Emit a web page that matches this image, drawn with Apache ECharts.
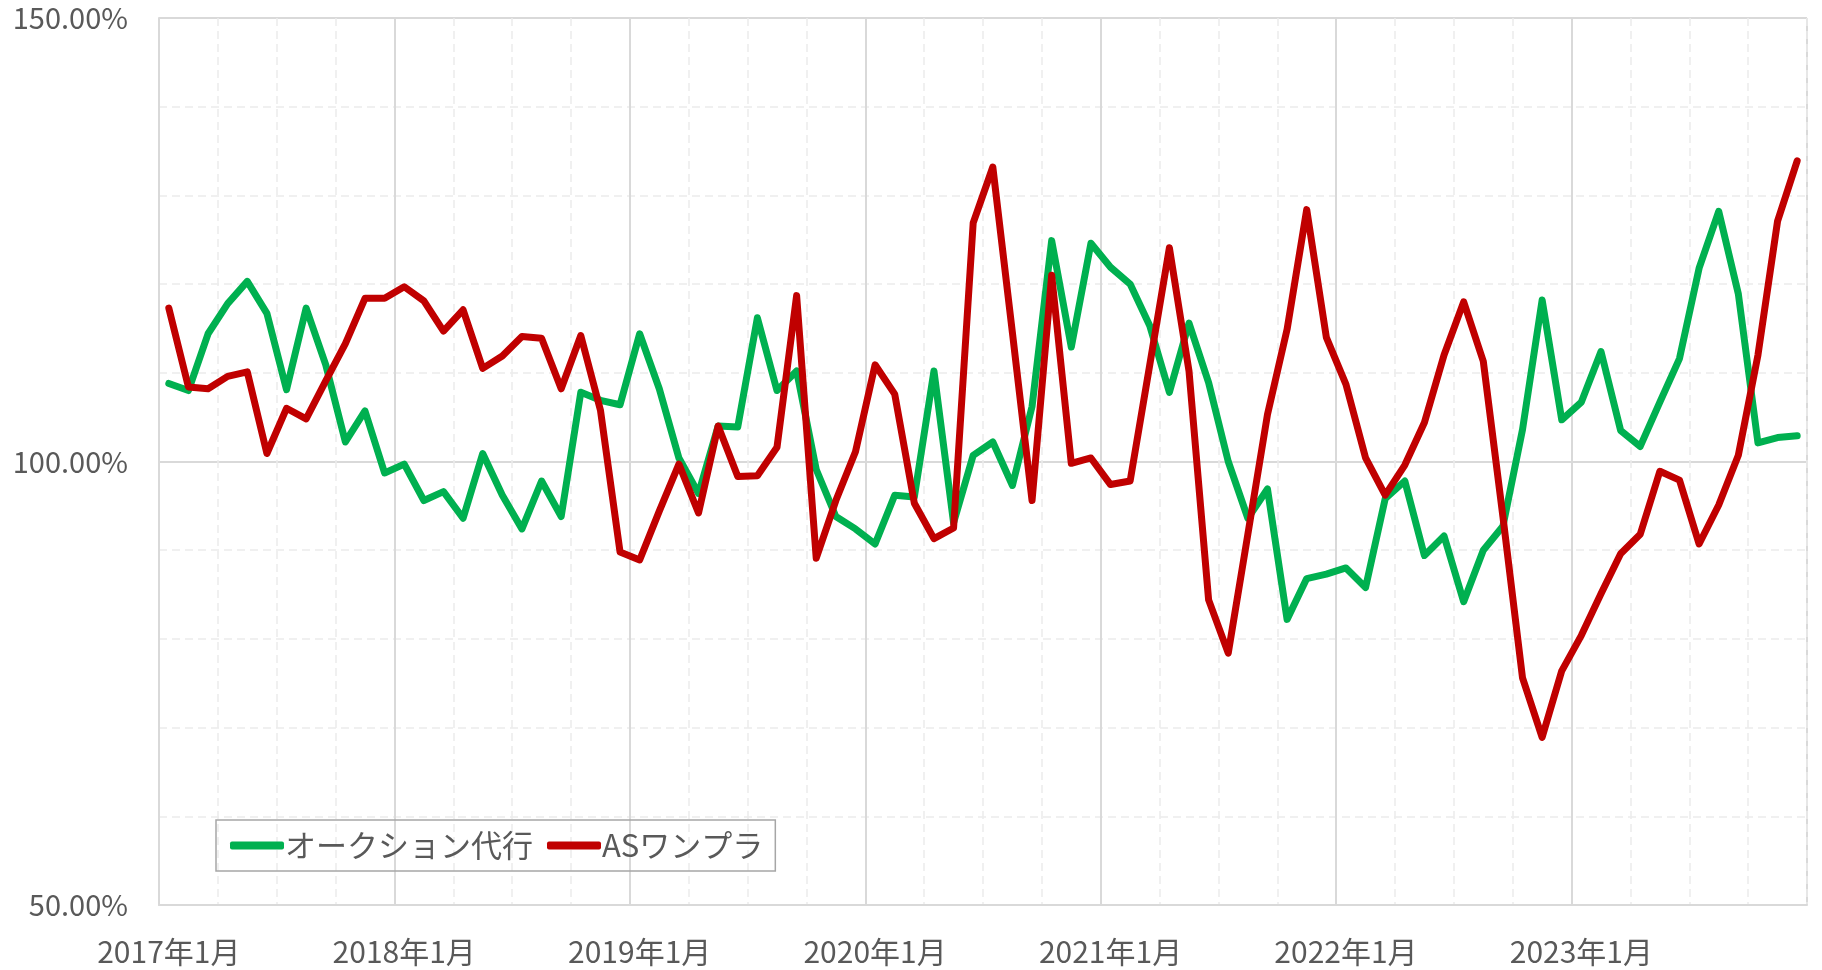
<!DOCTYPE html>
<html>
<head>
<meta charset="utf-8">
<script src="https://cdn.jsdelivr.net/npm/echarts@6/dist/echarts.min.js"></script>
<style>
  html, body { margin: 0; padding: 0; background: #fff; }
  #main { width: 1822px; height: 970px; }
</style>
</head>
<body>
<div id="main"></div>
<script>
// months Jan 2017 .. Dec 2023
const years = [2017, 2018, 2019, 2020, 2021, 2022, 2023]
const months = []
for (let y of years) {
    for (let m = 1; m <= 12; m++) months.push(y + '年' + m + '月')
}

const seriesNames = ['オークション代行', 'ASワンプラ']

// %
const auctionAgency = [
    108.8, 108.0, 114.4, 117.8, 120.3, 116.7, 108.1, 117.3, 110.9, 102.2, 105.7, 98.7,
    99.7, 95.6, 96.6, 93.6, 100.9, 96.2, 92.4, 97.8, 93.8, 107.8, 106.9, 106.4,
    114.4, 108.2, 100.4, 96.4, 104.0, 103.9, 116.2, 108.0, 110.2, 99.1, 93.8, 92.4,
    90.7, 96.2, 96.0, 110.2, 93.1, 100.7, 102.2, 97.3, 106.2, 124.9, 112.9, 124.6,
    121.9, 120.0, 115.3, 107.8, 115.6, 108.9, 100.0, 93.6, 96.9, 82.2, 86.8, 87.3,
    88.0, 85.8, 95.8, 97.8, 89.4, 91.6, 84.2, 90.0, 92.7, 103.6, 118.2, 104.7,
    106.7, 112.4, 103.5, 101.7, 106.7, 111.6, 121.8, 128.2, 118.9, 102.1, 102.7, 102.9
]

const asOnePla = [
    117.3, 108.4, 108.2, 109.6, 110.1, 100.9, 106.0, 104.8, 109.1, 113.3, 118.4, 118.4,
    119.7, 118.1, 114.7, 117.1, 110.5, 111.9, 114.1, 113.9, 108.2, 114.2, 105.8, 89.8,
    88.9, 94.4, 99.7, 94.2, 104.0, 98.3, 98.4, 101.6, 118.7, 89.1, 95.6, 101.1,
    110.9, 107.6, 95.3, 91.3, 92.5, 126.9, 133.2, 114.5, 95.6, 121.0, 99.8, 100.4,
    97.4, 97.8, 110.9, 124.1, 110.2, 84.4, 78.4, 91.8, 105.3, 114.9, 128.4, 114.0,
    108.7, 100.4, 96.2, 99.6, 104.4, 112.0, 118.0, 111.3, 93.8, 75.6, 68.9, 76.4,
    80.4, 85.1, 89.6, 91.8, 98.9, 97.9, 90.7, 95.1, 100.7, 112.0, 127.1, 133.9
]

const colors = ['#00B050', '#C00000']
const font = '"Noto Sans CJK JP", "Noto Sans", sans-serif'

const chart = echarts.init(document.getElementById('main'))

chart.setOption({
    animation: false,
    backgroundColor: '#fff',
    grid: { left: 159, right: 15, top: 18, bottom: 65 },
    legend: {
        data: seriesNames,
        left: 216,
        top: 820,
        padding: [10, 12, 10, 14],
        borderColor: '#a6a6a6',
        borderWidth: 1.5,
        itemWidth: 54,
        itemHeight: 8,
        itemGap: 14,
        icon: 'roundRect',
        textStyle: { fontSize: 31, color: '#595959', fontFamily: font, padding: [0, 0, 0, -4] }
    },
    xAxis: [
        {
            type: 'category',
            data: months,
            boundaryGap: true,
            axisLine: { lineStyle: { color: '#d9d9d9', width: 2 } },
            axisTick: { show: false },
            axisLabel: {
                interval: (i) => i % 12 === 0,
                color: '#595959',
                fontSize: 30,
                fontFamily: font,
                margin: 32
            },
            splitLine: {
                show: true,
                interval: (i) => i % 12 === 0,
                lineStyle: { color: '#d9d9d9', width: 2 }
            }
        },
        {
            type: 'category',
            data: months,
            boundaryGap: true,
            position: 'bottom',
            axisLine: { show: false },
            axisTick: { show: false },
            axisLabel: { show: false },
            splitLine: {
                show: true,
                interval: (i) => i % 3 === 0 && i % 12 !== 0,
                lineStyle: { color: '#ebebeb', width: 1.5, type: [8, 5] }
            }
        }
    ],
    yAxis: {
        type: 'value',
        min: 50,
        max: 150,
        interval: 50,
        axisLine: { show: true, lineStyle: { color: '#d9d9d9', width: 2 } },
        axisTick: { show: false },
        axisLabel: {
            formatter: (v) => v.toFixed(2) + '%',
            color: '#595959',
            fontSize: 29,
            fontFamily: font,
            margin: 31
        },
        splitLine: { lineStyle: { color: '#d9d9d9', width: 2 } },
        minorTick: { show: false, splitNumber: 5 },
        minorSplitLine: { show: true, lineStyle: { color: '#ebebeb', width: 1.5, type: [8, 5] } }
    },
    series: [
        {
            name: seriesNames[0],
            type: 'line',
            data: auctionAgency,
            symbol: 'none',
            color: colors[0],
            lineStyle: { width: 7, cap: 'round', join: 'round' }
        },
        {
            name: seriesNames[1],
            type: 'line',
            data: asOnePla,
            symbol: 'none',
            color: colors[1],
            lineStyle: { width: 7, cap: 'round', join: 'round' }
        }
    ]
})
</script>
</body>
</html>
